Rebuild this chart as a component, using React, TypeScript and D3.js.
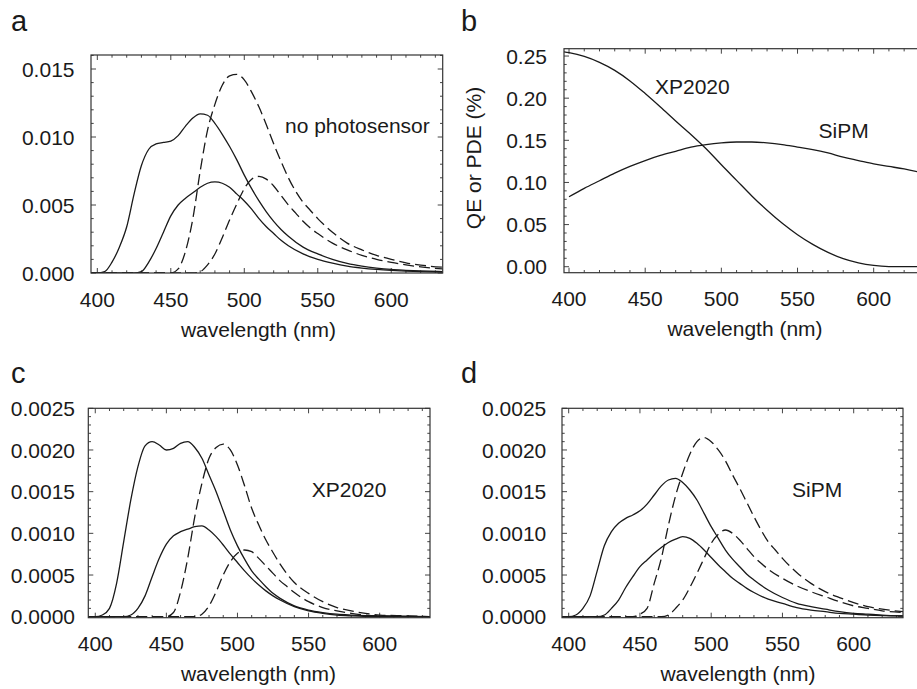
import React from "react";
import * as d3 from "d3";

type Pt = [number, number];

// ---------- tick values ----------
const xMajorTicks = [400, 450, 500, 550, 600];
const aYTicks = [0, 0.005, 0.01, 0.015];
const bYTicks = [0, 0.05, 0.1, 0.15, 0.2, 0.25];
const cdYTicks = [0, 0.0005, 0.001, 0.0015, 0.002, 0.0025];

// ---------- panel a : no photosensor ----------
const aSolid1: Pt[] = [[395,0],[400,0],[405,0.0001],[410,0.0008],[415,0.0019],[420,0.0034],[425,0.0058],[430,0.0079],[435,0.0091],[440,0.0095],[445,0.0096],[450,0.0097],[455,0.0101],[460,0.0108],[465,0.0114],[470,0.0117],[475,0.0116],[480,0.0110],[485,0.0102],[490,0.0093],[495,0.0083],[500,0.0072],[505,0.0062],[510,0.0053],[515,0.0045],[520,0.0038],[525,0.0032],[530,0.0027],[540,0.0019],[550,0.0014],[560,0.0010],[570,0.0007],[580,0.0005],[590,0.00036],[600,0.00026],[610,0.0002],[620,0.00015],[635,0.0001]];
const aSolid2: Pt[] = [[395,0],[425,0],[430,0.0001],[435,0.0008],[440,0.0018],[445,0.003],[450,0.0042],[455,0.005],[460,0.0055],[465,0.0059],[470,0.0063],[475,0.0066],[480,0.0067],[485,0.0066],[490,0.0063],[495,0.0058],[500,0.0053],[505,0.0047],[510,0.004],[515,0.0034],[520,0.0029],[525,0.0024],[530,0.002],[540,0.0014],[550,0.001],[560,0.00072],[570,0.0005],[580,0.00036],[590,0.00026],[600,0.00019],[610,0.00014],[620,0.0001],[635,0.00007]];
const aDash1: Pt[] = [[395,0],[450,0],[455,0.0003],[460,0.0016],[465,0.004],[470,0.0075],[475,0.0105],[480,0.0124],[485,0.0138],[490,0.0145],[495,0.0146],[500,0.0142],[505,0.0133],[510,0.0122],[515,0.0109],[520,0.0095],[525,0.0082],[530,0.007],[535,0.006],[540,0.0052],[545,0.0046],[550,0.004],[560,0.003],[570,0.0022],[580,0.0017],[590,0.0013],[600,0.001],[610,0.00075],[620,0.00058],[635,0.00042]];
const aDash2: Pt[] = [[395,0],[465,0],[470,0.0001],[475,0.0006],[480,0.0014],[485,0.0026],[490,0.0039],[495,0.0051],[500,0.0062],[505,0.0069],[510,0.0071],[515,0.0069],[520,0.0064],[525,0.0057],[530,0.005],[535,0.0044],[540,0.0038],[545,0.0033],[550,0.0029],[560,0.0022],[570,0.0017],[580,0.0013],[590,0.001],[600,0.00078],[610,0.0006],[620,0.00045],[635,0.0003]];

// ---------- panel b : QE / PDE ----------
const bXP2020: Pt[] = [[395,0.2555],[400,0.254],[410,0.2495],[420,0.2425],[430,0.233],[440,0.2205],[450,0.2055],[460,0.1895],[470,0.173],[480,0.157],[490,0.14],[500,0.121],[510,0.1025],[520,0.084],[530,0.067],[540,0.0515],[550,0.038],[560,0.0265],[570,0.017],[580,0.0095],[590,0.0045],[600,0.0015],[610,0.0002],[620,0],[635,0]];
const bSiPM: Pt[] = [[400,0.083],[410,0.093],[420,0.102],[430,0.111],[440,0.119],[450,0.126],[460,0.132],[470,0.137],[480,0.142],[490,0.145],[500,0.147],[510,0.148],[520,0.148],[530,0.147],[540,0.145],[550,0.142],[560,0.139],[570,0.135],[580,0.13],[590,0.126],[600,0.122],[610,0.119],[620,0.116],[635,0.11]];

// ---------- panel c : XP2020 ----------
const cSolid1: Pt[] = [[395,0],[400,0],[405,0.00002],[410,0.0001],[415,0.0004],[420,0.0009],[425,0.0014],[430,0.0018],[435,0.00205],[440,0.0021],[445,0.00206],[450,0.002],[455,0.00202],[460,0.00208],[465,0.0021],[470,0.00203],[475,0.0019],[480,0.0017],[485,0.0015],[490,0.00127],[495,0.00104],[500,0.00085],[505,0.00069],[510,0.00055],[515,0.00045],[520,0.00036],[525,0.00028],[530,0.00022],[540,0.00013],[550,0.00008],[560,0.00005],[570,0.00003],[580,0.00002],[600,0.00001],[635,0]];
const cSolid2: Pt[] = [[395,0],[420,0],[425,0.00002],[430,0.0001],[435,0.00025],[440,0.00048],[445,0.0007],[450,0.00087],[455,0.00097],[460,0.00102],[465,0.00105],[470,0.00108],[475,0.00109],[480,0.00104],[485,0.00096],[490,0.00086],[495,0.00075],[500,0.00065],[505,0.00055],[510,0.00046],[515,0.00038],[520,0.00031],[525,0.00025],[530,0.0002],[540,0.00012],[550,0.00007],[560,0.00004],[570,0.00002],[580,0.00001],[600,0],[635,0]];
const cDash1: Pt[] = [[395,0],[450,0],[455,0.00005],[460,0.0003],[465,0.0007],[470,0.0012],[475,0.0016],[480,0.0019],[485,0.00203],[490,0.00207],[495,0.002],[500,0.00182],[505,0.00157],[510,0.0013],[515,0.0011],[520,0.00092],[525,0.00077],[530,0.00063],[535,0.00051],[540,0.00041],[550,0.00028],[560,0.00018],[570,0.00011],[580,0.00007],[590,0.00004],[600,0.00002],[620,0.00001],[635,0]];
const cDash2: Pt[] = [[395,0],[470,0],[475,0.00003],[480,0.00013],[485,0.0003],[490,0.0005],[495,0.00066],[500,0.00076],[505,0.0008],[510,0.00078],[515,0.0007],[520,0.00061],[525,0.00052],[530,0.00043],[535,0.00036],[540,0.00029],[550,0.00018],[560,0.00011],[570,0.00007],[580,0.00004],[590,0.00002],[600,0.00001],[635,0]];

// ---------- panel d : SiPM ----------
const dSolid1: Pt[] = [[395,0],[400,0],[405,0.00002],[410,0.0001],[415,0.00025],[420,0.00055],[425,0.00085],[430,0.00102],[435,0.00112],[440,0.00118],[445,0.00122],[450,0.00127],[455,0.00135],[460,0.00146],[465,0.00157],[470,0.00164],[475,0.00166],[480,0.00161],[485,0.00152],[490,0.0014],[495,0.00124],[500,0.00108],[505,0.00094],[510,0.0008],[515,0.00069],[520,0.0006],[525,0.00051],[530,0.00044],[540,0.00032],[550,0.00023],[560,0.00016],[570,0.00012],[580,0.00009],[590,0.00006],[600,0.00004],[610,0.00003],[620,0.00002],[635,0.00001]];
const dSolid2: Pt[] = [[395,0],[420,0],[425,0.00002],[430,0.0001],[435,0.0002],[440,0.00035],[445,0.00048],[450,0.0006],[455,0.00068],[460,0.00076],[465,0.00083],[470,0.00089],[475,0.00093],[480,0.00096],[485,0.00094],[490,0.00088],[495,0.0008],[500,0.00071],[505,0.00062],[510,0.00054],[515,0.00046],[520,0.0004],[525,0.00034],[530,0.00029],[540,0.00021],[550,0.00016],[560,0.00011],[570,0.00008],[580,0.00006],[590,0.00004],[600,0.00003],[610,0.00002],[635,0.00001]];
const dDash1: Pt[] = [[395,0],[445,0],[450,0.00003],[455,0.0001],[460,0.0004],[465,0.0007],[470,0.0011],[475,0.00145],[480,0.00172],[485,0.00195],[490,0.0021],[495,0.00215],[500,0.0021],[505,0.002],[510,0.00187],[515,0.0017],[520,0.00154],[525,0.00137],[530,0.0012],[535,0.00104],[540,0.0009],[545,0.0008],[550,0.0007],[560,0.00053],[570,0.0004],[580,0.0003],[590,0.00023],[600,0.00017],[610,0.00012],[620,0.00009],[635,0.00006]];
const dDash2: Pt[] = [[395,0],[465,0],[470,0.00002],[475,0.0001],[480,0.0002],[485,0.00035],[490,0.00052],[495,0.0007],[500,0.00088],[505,0.00099],[510,0.00104],[515,0.001],[520,0.00092],[525,0.00082],[530,0.00072],[535,0.00064],[540,0.00057],[550,0.00046],[560,0.00037],[570,0.0003],[580,0.00024],[590,0.00018],[600,0.00013],[610,0.0001],[620,0.00007],[635,0.00005]];

const FONT = "'Liberation Sans', Arial, Helvetica, sans-serif";
const INK = "#1a1a1a";

type Series = { data: Pt[]; dashed: boolean };
type PanelProps = {
  id: string;
  letter: string;
  letterPos: [number, number];
  frame: { x0: number; x1: number; y0: number; y1: number };
  xDomain: [number, number];
  yDomain: [number, number];
  yTicks: number[];
  yMinorStep: number;
  yFmt: string;
  yLabelRight: number;
  titleX: number;
  series: Series[];
  labels: { text: string; x: number; y: number }[];
  yTitle?: { text: string; x: number; y: number };
};

function Panel(p: PanelProps) {
  const { frame } = p;
  const x = d3.scaleLinear().domain(p.xDomain).range([frame.x0, frame.x1]);
  const y = d3.scaleLinear().domain(p.yDomain).range([frame.y1, frame.y0]);
  const line = d3
    .line<Pt>()
    .x((d) => x(d[0]))
    .y((d) => y(d[1]))
    .curve(d3.curveMonotoneX);
  const fmt = d3.format(p.yFmt);

  const xMinor: number[] = [];
  for (let v = Math.ceil(p.xDomain[0] / 10) * 10; v <= p.xDomain[1]; v += 10) {
    if (v % 50 !== 0) xMinor.push(v);
  }
  const yMinor: number[] = [];
  const n0 = Math.ceil(p.yDomain[0] / p.yMinorStep - 1e-6);
  const n1 = Math.floor(p.yDomain[1] / p.yMinorStep + 1e-6);
  const majorStep = p.yTicks[1] - p.yTicks[0];
  const ratio = Math.round(majorStep / p.yMinorStep);
  for (let n = n0; n <= n1; n++) {
    if (n % ratio !== 0) yMinor.push(n * p.yMinorStep);
  }
  const MAJ = 5;
  const MIN = 2.7;
  const tickStroke = "#444";

  return (
    <g>
      <defs>
        <clipPath id={`clip-${p.id}`}>
          <rect x={frame.x0} y={frame.y0} width={frame.x1 - frame.x0} height={frame.y1 - frame.y0} />
        </clipPath>
      </defs>
      <text x={p.letterPos[0]} y={p.letterPos[1]} fontFamily={FONT} fontSize={29} fill={INK}>
        {p.letter}
      </text>
      {/* ticks */}
      <g stroke={tickStroke} strokeWidth={1}>
        {xMajorTicks.map((v) => (
          <g key={`xM${v}`}>
            <line x1={x(v)} x2={x(v)} y1={frame.y1} y2={frame.y1 - MAJ} />
            <line x1={x(v)} x2={x(v)} y1={frame.y0} y2={frame.y0 + MAJ} />
          </g>
        ))}
        {xMinor.map((v) => (
          <g key={`xm${v}`}>
            <line x1={x(v)} x2={x(v)} y1={frame.y1} y2={frame.y1 - MIN} />
            <line x1={x(v)} x2={x(v)} y1={frame.y0} y2={frame.y0 + MIN} />
          </g>
        ))}
        {p.yTicks.map((v) => (
          <g key={`yM${v}`}>
            <line x1={frame.x0} x2={frame.x0 + MAJ} y1={y(v)} y2={y(v)} />
            <line x1={frame.x1} x2={frame.x1 - MAJ} y1={y(v)} y2={y(v)} />
          </g>
        ))}
        {yMinor.map((v) => (
          <g key={`ym${v}`}>
            <line x1={frame.x0} x2={frame.x0 + MIN} y1={y(v)} y2={y(v)} />
            <line x1={frame.x1} x2={frame.x1 - MIN} y1={y(v)} y2={y(v)} />
          </g>
        ))}
      </g>
      {/* curves */}
      <g clipPath={`url(#clip-${p.id})`} fill="none" stroke={INK} strokeWidth={1.3}>
        {p.series.map((s, i) => (
          <path key={i} d={line(s.data) || ""} strokeDasharray={s.dashed ? "11,5" : undefined} />
        ))}
      </g>
      <rect
        x={frame.x0}
        y={frame.y0}
        width={frame.x1 - frame.x0}
        height={frame.y1 - frame.y0}
        fill="none"
        stroke="#333"
        strokeWidth={1.2}
      />
      {/* tick labels */}
      <g fontFamily={FONT} fontSize={21} fill={INK}>
        {xMajorTicks.map((v) => (
          <text key={`xl${v}`} x={x(v)} y={frame.y1 + 33.7} textAnchor="middle">
            {v}
          </text>
        ))}
        {p.yTicks.map((v) => (
          <text key={`yl${v}`} x={p.yLabelRight} y={y(v)} dy="0.36em" textAnchor="end">
            {fmt(v)}
          </text>
        ))}
        <text x={p.titleX} y={frame.y1 + 63.5} textAnchor="middle">
          wavelength (nm)
        </text>
        {p.yTitle && (
          <text
            transform={`translate(${p.yTitle.x},${p.yTitle.y}) rotate(-90)`}
            textAnchor="middle"
            dy="0.36em"
          >
            {p.yTitle.text}
          </text>
        )}
        {p.labels.map((l) => (
          <text key={l.text} x={l.x} y={l.y}>
            {l.text}
          </text>
        ))}
      </g>
    </g>
  );
}

export default function App() {
  return (
    <svg
      width={917}
      height={689}
      viewBox="0 0 917 689"
      style={{ position: "absolute", left: 0, top: 0, background: "#fff" }}
    >
      <rect x={0} y={0} width={917} height={689} fill="#fff" />
      <Panel
        id="a"
        letter="a"
        letterPos={[11, 30.5]}
        frame={{ x0: 91, x1: 442.7, y0: 55, y1: 273 }}
        xDomain={[395.7, 635]}
        yDomain={[0, 0.01603]}
        yTicks={aYTicks}
        yMinorStep={0.001}
        yFmt=".3f"
        yLabelRight={74.5}
        titleX={258.5}
        series={[
          { data: aSolid1, dashed: false },
          { data: aSolid2, dashed: false },
          { data: aDash1, dashed: true },
          { data: aDash2, dashed: true },
        ]}
        labels={[{ text: "no photosensor", x: 285, y: 133 }]}
      />
      <Panel
        id="b"
        letter="b"
        letterPos={[461, 30.5]}
        frame={{ x0: 564, x1: 927, y0: 48.7, y1: 272.7 }}
        xDomain={[396.7, 635]}
        yDomain={[-0.0071, 0.2587]}
        yTicks={bYTicks}
        yMinorStep={0.01}
        yFmt=".2f"
        yLabelRight={547}
        titleX={745}
        series={[
          { data: bXP2020, dashed: false },
          { data: bSiPM, dashed: false },
        ]}
        labels={[
          { text: "XP2020", x: 655, y: 94 },
          { text: "SiPM", x: 818.5, y: 137.5 },
        ]}
        yTitle={{ text: "QE or PDE (%)", x: 473, y: 158 }}
      />
      <Panel
        id="c"
        letter="c"
        letterPos={[11, 383.3]}
        frame={{ x0: 88.3, x1: 430, y0: 408.3, y1: 617.7 }}
        xDomain={[395.1, 635.4]}
        yDomain={[-0.000012, 0.0025]}
        yTicks={cdYTicks}
        yMinorStep={0.0001}
        yFmt=".4f"
        yLabelRight={75}
        titleX={258.5}
        series={[
          { data: cSolid1, dashed: false },
          { data: cSolid2, dashed: false },
          { data: cDash1, dashed: true },
          { data: cDash2, dashed: true },
        ]}
        labels={[{ text: "XP2020", x: 311.7, y: 497 }]}
      />
      <Panel
        id="d"
        letter="d"
        letterPos={[461, 383.3]}
        frame={{ x0: 562, x1: 903, y0: 408.3, y1: 617.7 }}
        xDomain={[395.3, 634.6]}
        yDomain={[-0.000012, 0.0025]}
        yTicks={cdYTicks}
        yMinorStep={0.0001}
        yFmt=".4f"
        yLabelRight={546.3}
        titleX={738}
        series={[
          { data: dSolid1, dashed: false },
          { data: dSolid2, dashed: false },
          { data: dDash1, dashed: true },
          { data: dDash2, dashed: true },
        ]}
        labels={[{ text: "SiPM", x: 792, y: 497.3 }]}
      />
    </svg>
  );
}
